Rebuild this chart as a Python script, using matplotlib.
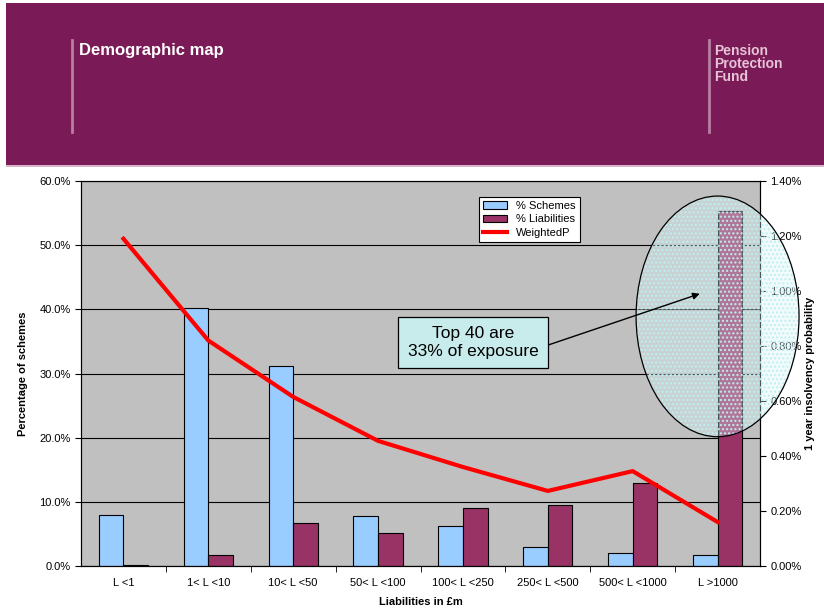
import numpy as np
import matplotlib.pyplot as plt
from matplotlib.patches import Rectangle, Ellipse
from matplotlib.ticker import FuncFormatter

plt.rcParams['font.family'] = ['Liberation Sans', 'DejaVu Sans']

categories = ['L <1', '1< L <10', '10< L <50', '50< L <100', '100< L <250',
              '250< L <500', '500< L <1000', 'L >1000']
pct_schemes = [8.0, 40.2, 31.2, 7.8, 6.2, 2.9, 2.0, 1.7]
pct_liabilities = [0.1, 1.7, 6.7, 5.1, 9.0, 9.5, 12.9, 55.3]
weighted_p = [1.19, 0.82, 0.615, 0.455, 0.36, 0.273, 0.345, 0.16]

fig = plt.figure(figsize=(8.24, 6.11), dpi=100)

# header band
band = '#7A1A56'
fig.patches.append(Rectangle((6/824, 1-165/611), 818/824, 162/611, transform=fig.transFigure,
                             facecolor=band, edgecolor='none', zorder=0))
fig.patches.append(Rectangle((6/824, 1-167/611), 818/824, 2/611, transform=fig.transFigure,
                             facecolor='#D9B3C9', edgecolor='none', zorder=0))
fig.add_artist(plt.Line2D([72/824, 72/824], [1-40/611, 1-132/611], color='#B77FA2', lw=2))
fig.add_artist(plt.Line2D([709/824, 709/824], [1-40/611, 1-132/611], color='#B77FA2', lw=2))
fig.text(79/824, 1-50/611, 'Demographic map', color='white', fontsize=12, fontweight='bold', va='center')
fig.text(714/824, 1-64/611, 'Pension\nProtection\nFund', color='#E6C4D8', fontsize=10,
         fontweight='bold', va='center', linespacing=0.95)

ax = fig.add_axes([81/824, 1-566/611, 679/824, 385/611])
ax.set_facecolor('#C0C0C0')
x = np.arange(len(categories))
w = 0.29
b1 = ax.bar(x - w/2, pct_schemes, w, color='#99CCFF', edgecolor='black', lw=0.8, label='% Schemes', zorder=2)
b2 = ax.bar(x + w/2, pct_liabilities, w, color='#993366', edgecolor='black', lw=0.8, label='% Liabilities', zorder=2)
ax.set_ylim(0, 60)
ax.set_xlim(-0.5, len(categories) - 0.5)
ax.set_yticks(np.arange(0, 61, 10))
ax.yaxis.set_major_formatter(FuncFormatter(lambda v, p: f'{v:.1f}%'))
ax.grid(axis='y', color='black', lw=0.8, zorder=1)
ax.set_axisbelow(True)
ax.set_xticks(x)
ax.set_xticklabels(categories)
ax.set_xticks(np.arange(0.5, len(categories) - 0.5, 1), minor=True)
ax.tick_params(axis='x', which='major', length=0, pad=9, labelsize=8)
ax.tick_params(axis='x', which='minor', length=4)
ax.tick_params(axis='y', labelsize=8, length=4)
ax.set_ylabel('Percentage of schemes', fontsize=8, fontweight='bold', labelpad=8)
ax.set_xlabel('Liabilities in £m', fontsize=8, fontweight='bold', labelpad=6)

ax2 = ax.twinx()
l1, = ax2.plot(x, weighted_p, color='#FF0000', lw=3, label='WeightedP', zorder=3)
ax2.set_ylim(0, 1.4)
ax2.set_yticks(np.arange(0, 1.41, 0.2))
ax2.yaxis.set_major_formatter(FuncFormatter(lambda v, p: f'{v:.2f}%'))
ax2.tick_params(axis='y', labelsize=8, length=4)
ax2.set_ylabel('1 year insolvency probability', fontsize=8, fontweight='bold', labelpad=2)

for a in (ax, ax2):
    for s in a.spines.values():
        s.set_linewidth(0.8)

leg = ax2.legend([b1, b2, l1], ['% Schemes', '% Liabilities', 'WeightedP'], loc='upper left',
                 bbox_to_anchor=(392/679, 1-10/385), fontsize=8, frameon=True, fancybox=False,
                 edgecolor='black', framealpha=1, handlelength=2.2, borderpad=0.4, labelspacing=0.3)
leg.get_frame().set_linewidth(0.8)

# highlight ellipse: dotted light fill plus a separate black outline
ell_center = (7, 38.9 * 1.4 / 60)
ell_w, ell_h = 1.92, 37.5 * 1.4 / 60
ax2.add_patch(Ellipse(ell_center, ell_w, ell_h, facecolor=(0.85, 0.96, 0.97, 0.35),
                      edgecolor='#BFEFF2', lw=0, hatch='....', clip_on=False, zorder=5))
ax2.add_patch(Ellipse(ell_center, ell_w, ell_h, facecolor='none', edgecolor='black', lw=0.9,
                      clip_on=False, zorder=6))
ax2.annotate('', xy=(6.79, 0.99), xytext=(4.97, 0.80),
             arrowprops=dict(arrowstyle='-|>', color='black', lw=1, mutation_scale=10,
                             shrinkA=0, shrinkB=0), zorder=7)
ax2.text(4.12, 0.813, 'Top 40 are\n33% of exposure', fontsize=12.5, ha='center', va='center', zorder=8,
         bbox=dict(boxstyle='square,pad=0.55', facecolor='#C8ECEC', edgecolor='black', lw=0.9))

fig.savefig('out.png', dpi=100)
